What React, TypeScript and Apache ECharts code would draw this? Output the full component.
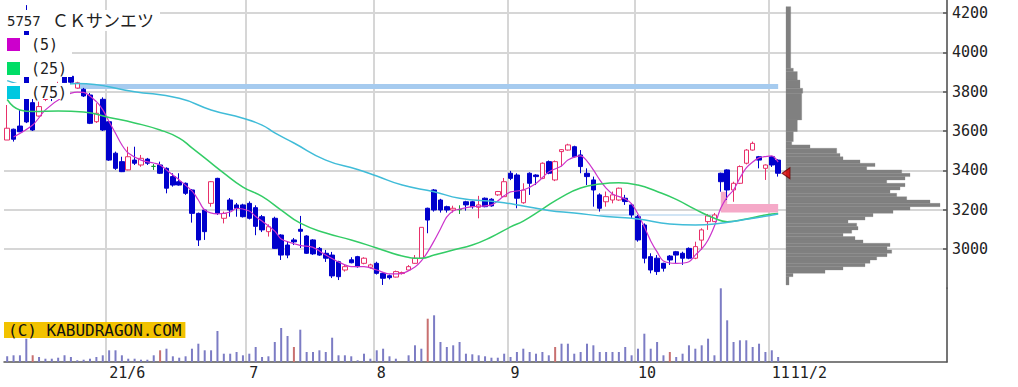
import React, { useEffect, useRef } from 'react';
import * as echarts from 'echarts';

// ---- trading calendar (2021) ----
const MAY = [10, 11, 12, 13, 14, 17, 18, 19, 20, 21, 24, 25, 26, 27, 28, 31];
const JUN = [1, 2, 3, 4, 7, 8, 9, 10, 11, 14, 15, 16, 17, 18, 21, 22, 23, 24, 25, 28, 29, 30];
const JUL = [1, 2, 5, 6, 7, 8, 9, 12, 13, 14, 15, 16, 19, 20, 21, 26, 27, 28, 29, 30];
const AUG = [2, 3, 4, 5, 6, 10, 11, 12, 13, 16, 17, 18, 19, 20, 23, 24, 25, 26, 27, 30, 31];
const SEP = [1, 2, 3, 6, 7, 8, 9, 10, 13, 14, 15, 16, 17, 21, 22, 24, 27, 28, 29, 30];
const OCT = [1, 4, 5, 6, 7, 8, 11, 12, 13, 14, 15, 18, 19, 20, 21, 22, 25, 26, 27, 28, 29];
const NOV = [1, 2];
const MONTHS: [number, number[]][] = [[5, MAY], [6, JUN], [7, JUL], [8, AUG], [9, SEP], [10, OCT], [11, NOV]];
const tradingDays: string[] = [];
MONTHS.forEach(([m, days]) => days.forEach((d) => tradingDays.push(`2021/${m}/${d}`)));
const TOTAL_SLOTS = 148; // chart leaves empty room on the right for the price-volume profile
const categories = [...tradingDays, ...new Array(TOTAL_SLOTS - tradingDays.length).fill('')];

// ---- x tick labels ----
const tickDates = ['2021/6/1', '2021/7/1', '2021/8/2', '2021/9/1', '2021/10/1', '2021/11/1'];
const tickTexts = ['21/6', '7', '8', '9', '10', '11'];
const lastDateText = '11/2';
const monthStartDates = ['2021/6/1', '2021/7/1', '2021/8/2', '2021/9/1', '2021/10/1', '2021/11/1'];

// ---- price ticks ----
const priceTicks = [3000, 3200, 3400, 3600, 3800, 4000, 4200];

// ---- OHLC ----
const openP = [
  3554, 3609, 3625, 4160, 3744, 3676, 3760, 3800, 3790, 3880,
  3878, 3818, 3812, 3783, 3647, 3761, 3647, 3487, 3444, 3402,
  3452, 3427, 3457, 3420, 3427, 3410, 3368, 3342, 3334, 3300,
  3181, 3198, 3232, 3359, 3156, 3249, 3224, 3224, 3232, 3210,
  3164, 3088, 3156, 3071, 3020, 3046, 3100, 3066, 3046, 3003,
  2978, 2969, 2935, 2893, 2945, 2961, 2927, 2907, 2927, 2876,
  2864, 2857, 2875, 2893, 2927, 2953, 3207, 3300, 3249, 3215,
  3198, 3200, 3240, 3240, 3212, 3258, 3253, 3275, 3266, 3385,
  3376, 3235, 3385, 3376, 3359, 3444, 3351, 3495, 3503, 3520,
  3478, 3385, 3351, 3275, 3240, 3249, 3249, 3258, 3224, 3164,
  3122, 2961, 2953, 2927, 2964, 2986, 2978, 3003, 2953, 3045,
  3139, 3139, 3385, 3402, 3300, 3334, 3436, 3503, 3469, 3410,
  3469, 3452,
];
const closeP = [
  3614, 3558, 3596, 3646, 3605, 3724, 3775, 3785, 3835, 3845,
  3848, 3845, 3778, 3639, 3690, 3605, 3452, 3410, 3393, 3469,
  3436, 3461, 3436, 3420, 3385, 3309, 3325, 3325, 3283, 3181,
  3046, 3088, 3342, 3181, 3181, 3198, 3207, 3164, 3156, 3115,
  3097, 3113, 3003, 2969, 2969, 3036, 3090, 2978, 2975, 2969,
  2953, 2863, 2859, 2910, 2930, 2910, 2953, 2919, 2876, 2851,
  2854, 2885, 2880, 2910, 2953, 3110, 3147, 3198, 3198, 3198,
  3207, 3200, 3224, 3215, 3224, 3215, 3219, 3292, 3342, 3359,
  3258, 3300, 3334, 3368, 3436, 3385, 3444, 3505, 3529, 3469,
  3419, 3368, 3300, 3207, 3266, 3275, 3309, 3241, 3173, 3046,
  2953, 2893, 2885, 2902, 2944, 2969, 2953, 2953, 3012, 3097,
  3168, 3173, 3342, 3300, 3334, 3419, 3503, 3537, 3452, 3427,
  3427, 3385,
];
const lowP = [
  3554, 3546, 3594, 3640, 3600, 3673, 3752, 3752, 3785, 3840,
  3840, 3815, 3773, 3635, 3641, 3600, 3448, 3402, 3391, 3400,
  3427, 3418, 3427, 3402, 3381, 3283, 3317, 3322, 3275, 3134,
  3015, 3046, 3215, 3173, 3130, 3164, 3164, 3160, 3150, 3070,
  3086, 3063, 3000, 2944, 2953, 3020, 3005, 2975, 2970, 2965,
  2934, 2852, 2842, 2885, 2927, 2905, 2922, 2900, 2870, 2817,
  2845, 2855, 2870, 2890, 2925, 2950, 3080, 3190, 3185, 3185,
  3185, 3178, 3195, 3205, 3156, 3212, 3215, 3270, 3264, 3350,
  3207, 3230, 3275, 3325, 3355, 3380, 3345, 3420, 3500, 3465,
  3385, 3325, 3215, 3190, 3215, 3232, 3245, 3224, 3156, 3037,
  2927, 2876, 2868, 2885, 2919, 2927, 2919, 2948, 2948, 2995,
  3097, 3137, 3291, 3249, 3240, 3330, 3430, 3500, 3410, 3351,
  3417, 3368,
];
const highP = [
  3732, 3612, 3707, 4240, 3790, 3749, 3800, 3820, 3850, 3890,
  3885, 3850, 3819, 3793, 3741, 3771, 3655, 3495, 3469, 3520,
  3520, 3478, 3463, 3432, 3444, 3415, 3385, 3385, 3338, 3305,
  3185, 3202, 3345, 3362, 3190, 3259, 3234, 3230, 3242, 3222,
  3173, 3125, 3164, 3075, 3037, 3056, 3168, 3070, 3050, 3010,
  2995, 2985, 2940, 2920, 2958, 2965, 2958, 2925, 2935, 2880,
  2870, 2890, 2885, 2918, 2969, 3110, 3210, 3305, 3255, 3220,
  3220, 3222, 3245, 3245, 3270, 3262, 3258, 3295, 3361, 3397,
  3385, 3334, 3390, 3380, 3440, 3450, 3450, 3508, 3535, 3525,
  3503, 3410, 3368, 3283, 3292, 3292, 3312, 3275, 3232, 3173,
  3130, 2978, 2969, 2930, 2969, 2990, 2986, 3008, 3037, 3105,
  3178, 3183, 3388, 3405, 3342, 3425, 3508, 3546, 3473, 3430,
  3473, 3456,
];

// ---- volume (thousand shares) ----
const volume = [
  57, 67, 67, 233, 67, 50, 33, 33, 43, 67,
  50, 17, 23, 33, 50, 67, 117, 117, 67, 33,
  33, 23, 23, 67, 117, 133, 57, 43, 57, 133,
  183, 117, 117, 310, 83, 83, 100, 67, 83, 150,
  50, 57, 200, 340, 260, 150, 323, 100, 100, 117,
  100, 243, 67, 67, 57, 17, 83, 33, 117, 133,
  57, 33, 0, 67, 167, 133, 433, 467, 200, 150,
  167, 200, 83, 77, 67, 57, 43, 43,
  83, 50, 100, 133, 100, 83, 100, 67, 150, 183,
  183, 83, 100, 183, 167, 100, 100, 100, 100, 150,
  67, 133, 283, 133, 200, 67, 100, 50, 83, 167,
  133, 167, 233, 67, 737, 417, 200, 217, 217, 150,
  183, 100, 117, 50,
];
const redVolumeDates = ['2021/5/14', '2021/6/11', '2021/7/12', '2021/8/13', '2021/9/10', '2021/10/8'];

// ---- moving averages [day index, price] ----
const ma5 = [
  [1, 3569], [4, 3630], [6, 3707], [9, 3778], [11, 3798], [12, 3796], [14, 3749], [15, 3707], [16, 3647],
  [17, 3588], [18, 3529], [19, 3488], [21, 3452], [23, 3437], [24, 3427], [26, 3376], [27, 3351], [29, 3295],
  [30, 3249], [31, 3198], [33, 3178], [35, 3188], [36, 3207], [38, 3193], [39, 3165], [40, 3142], [42, 3091],
  [43, 3051], [46, 3018], [48, 3008], [50, 2969], [52, 2934], [54, 2910], [56, 2910], [58, 2893], [60, 2873],
  [62, 2876], [64, 2908], [65, 2939], [66, 2985], [67, 3041], [68, 3102], [69, 3163], [70, 3193], [71, 3203],
  [73, 3215], [76, 3224], [78, 3270], [79, 3290], [81, 3300], [83, 3333], [85, 3392], [87, 3422], [88, 3452],
  [90, 3473], [91, 3447], [92, 3402], [93, 3351], [94, 3309], [95, 3280], [97, 3254], [98, 3229], [99, 3178],
  [100, 3112], [101, 3041], [102, 2985], [103, 2939], [105, 2927], [107, 2935], [108, 2969], [109, 3000],
  [110, 3046], [111, 3117], [112, 3208], [113, 3264], [114, 3300], [115, 3361], [116, 3412], [117, 3442],
  [118, 3463], [119, 3470], [120, 3473], [121, 3442],
];
const ma25 = [
  [0, 3760], [2, 3707], [4, 3699], [8, 3702], [12, 3697], [16, 3669], [20, 3641], [24, 3605], [27, 3564],
  [29, 3514], [31, 3463], [34, 3386], [37, 3315], [40, 3267], [43, 3198], [46, 3131], [50, 3081], [54, 3046],
  [58, 3005], [62, 2964], [65, 2953], [67, 2969], [70, 2995], [73, 3020], [76, 3061], [79, 3112], [81, 3142],
  [84, 3203], [87, 3264], [90, 3310], [93, 3330], [96, 3337], [99, 3325], [102, 3292], [105, 3252], [108, 3201],
  [111, 3156], [113, 3139], [116, 3152], [119, 3173], [121, 3180],
];
const ma75 = [
  [0, 3856], [5, 3825], [11, 3842], [20, 3800], [27, 3766], [32, 3707], [37, 3665], [40, 3630], [42, 3590],
  [45, 3539], [50, 3452], [55, 3404], [58, 3371], [62, 3325], [67, 3291], [71, 3258], [77, 3239], [81, 3219],
  [85, 3196], [89, 3183], [94, 3165], [99, 3152], [104, 3127], [108, 3122], [111, 3127], [116, 3151], [121, 3178],
];

// ---- horizontal lines & window ----
const resistance = { from: '2021/5/25', to: '2021/11/2', price: 3826 };
const support = { from: '2021/9/22', to: '2021/10/19', price: 3173 };
const windowLow = 3185;
const windowHigh = 3229;
const windowPeak = 3291;

// ---- price-volume profile ----
const profileEdges = [
  4232, 3919, 3902, 3859, 3817, 3792, 3656, 3597, 3546, 3529, 3512, 3486, 3469, 3453, 3436, 3419, 3402,
  3385, 3368, 3351, 3334, 3317, 3300, 3283, 3266, 3249, 3232, 3215, 3198, 3181, 3164, 3147, 3131, 3114,
  3097, 3080, 3063, 3046, 3029, 3012, 2995, 2978, 2961, 2944, 2927, 2910, 2893, 2876, 2859, 2817,
];
const profileVolume = [
  47, 73, 113, 140, 167, 157, 113, 73, 57, 240, 507, 540, 570, 740, 890, 807, 1157, 1240, 1190, 1007,
  1190, 1140, 1040, 1107, 1207, 1440, 1540, 1240, 1070, 870, 790, 620, 707, 720, 657, 570, 690, 770,
  1040, 1010, 1057, 1010, 907, 840, 790, 570, 390, 70, 30,
];

const legendLabels = ['(5)', '(25)', '(75)'];
const legendColors = ['#cc00cc', '#00dd66', '#00c8e0'];

const MONO = 'DejaVu Sans Mono';
const GRID_COLOR = '#d6d6d6';
const AXIS_COLOR = '#555';

function buildOption() {
  const labelIdx = tickDates.map((d) => categories.indexOf(d));
  const gridIdx = monthStartDates.map((d) => categories.indexOf(d));
  const lastIdx = tradingDays.length - 1;
  const candles = openP.map((o, i) => [o, closeP[i], lowP[i], highP[i]]);
  const vols = volume.map((v, i) => ({
    value: v,
    itemStyle: { color: redVolumeDates.includes(tradingDays[i]) ? '#c87070' : '#7c7cc4' },
  }));
  const profile = profileVolume.map((v, k) => [v, profileEdges[k], profileEdges[k + 1]]);
  const lastClose = closeP[closeP.length - 1];
  const splitLine = {
    show: true,
    interval: (i: number) => gridIdx.includes(i),
    lineStyle: { color: GRID_COLOR, width: 2 },
  };

  const graphic: any[] = [
    { type: 'rect', z: 100, shape: { x: 0, y: 10, width: 160, height: 21 }, style: { fill: '#fff' } },
    { type: 'rect', z: 100, shape: { x: 0, y: 35, width: 72, height: 42 }, style: { fill: '#fff' } },
    { type: 'rect', z: 100, shape: { x: 0, y: 83, width: 70, height: 16 }, style: { fill: '#fff' } },
    {
      type: 'text', z: 101, x: 7, y: 14,
      style: { text: '5757', fontFamily: MONO, fontSize: 14, fill: '#222', align: 'left', verticalAlign: 'top' },
    },
    {
      type: 'text', z: 101, x: 52, y: 11,
      style: { text: 'ＣＫサンエツ', fontFamily: 'Noto Sans CJK JP', fontSize: 17, fill: '#222', align: 'left', verticalAlign: 'top' },
    },
    {
      type: 'text', z: 101, x: 4, y: 322,
      style: {
        text: '(C) KABUDRAGON.COM', fontFamily: MONO, fontSize: 16, fill: '#111',
        backgroundColor: '#f2c200', padding: [0, 4, 0, 4], align: 'left', verticalAlign: 'top',
      },
    },
  ];
  legendLabels.forEach((t, k) => {
    const y = 38 + k * 24;
    graphic.push({ type: 'rect', z: 101, shape: { x: 7, y, width: 13, height: 13 }, style: { fill: legendColors[k] } });
    graphic.push({
      type: 'text', z: 101, x: 31, y: y - 1,
      style: { text: t, fontFamily: MONO, fontSize: 15, fill: '#222', align: 'left', verticalAlign: 'top' },
    });
  });

  return {
    animation: false,
    backgroundColor: '#fff',
    grid: [
      { left: 4, right: 71, top: 0, bottom: 98.7, outerBoundsMode: 'none' },
      { left: 4, right: 71, top: 288, bottom: 25, outerBoundsMode: 'none' },
      { left: 786, right: 71, top: 0, bottom: 98.7, outerBoundsMode: 'none' },
    ],
    xAxis: [
      {
        type: 'category', gridIndex: 0, data: categories, boundaryGap: true,
        axisLine: { show: false }, axisTick: { show: false }, axisLabel: { show: false }, splitLine,
      },
      {
        type: 'category', gridIndex: 1, data: categories, boundaryGap: true,
        axisLine: { show: true, lineStyle: { color: AXIS_COLOR, width: 1.5 } },
        axisTick: { show: false },
        axisLabel: {
          show: true,
          interval: (i: number) => labelIdx.includes(i),
          formatter: (_v: string, i: number) => {
            const k = labelIdx.indexOf(i);
            if (k < 0) return '';
            // the last trading day's date sits right after the final month label
            return i === lastIdx - 1 ? `${tickTexts[k]}{last|${lastDateText}}` : tickTexts[k];
          },
          rich: { last: { padding: [0, 0, 0, 1], fontFamily: MONO, fontSize: 15, color: '#222' } },
          align: 'left', margin: 3, color: '#222', fontFamily: MONO, fontSize: 15, hideOverlap: false,
        },
        splitLine,
      },
      { type: 'value', gridIndex: 2, min: 0, max: 1610, show: false },
    ],
    yAxis: [
      {
        type: 'value', gridIndex: 0, position: 'right', min: 2800, max: 4266, interval: 200,
        axisLine: { show: true, lineStyle: { color: AXIS_COLOR, width: 1.5 } },
        axisTick: { show: true, inside: true, length: 4, lineStyle: { color: AXIS_COLOR, width: 1.5 } },
        axisLabel: {
          formatter: (v: number) => (priceTicks.includes(v) ? String(v) : ''),
          showMinLabel: false, showMaxLabel: false, margin: 5,
          color: '#222', fontFamily: MONO, fontSize: 15,
        },
        splitLine: { show: true, showMinLine: false, showMaxLine: false, lineStyle: { color: GRID_COLOR, width: 2 } },
      },
      {
        type: 'value', gridIndex: 1, position: 'right', min: 0, max: 740,
        axisLine: { show: true, lineStyle: { color: AXIS_COLOR, width: 1.5 } },
        axisTick: { show: false }, axisLabel: { show: false }, splitLine: { show: false },
      },
      { type: 'value', gridIndex: 2, min: 2800, max: 4266, show: false },
    ],
    series: [
      {
        type: 'line', xAxisIndex: 0, yAxisIndex: 0, z: 1, symbol: 'none', silent: true,
        data: [[resistance.from, resistance.price], [resistance.to, resistance.price]],
        lineStyle: { color: '#a6cbef', width: 5 },
      },
      {
        type: 'line', xAxisIndex: 0, yAxisIndex: 0, z: 1, symbol: 'none', silent: true,
        data: [[support.from, support.price], [support.to, support.price]],
        lineStyle: { color: '#c2dcf2', width: 1.5 },
      },
      {
        type: 'candlestick', xAxisIndex: 0, yAxisIndex: 0, z: 2,
        data: candles, barWidth: 5,
        itemStyle: {
          color: '#ffffff', color0: '#0000cc', borderColor: '#e8306a', borderColor0: '#0000cc',
          borderColorDoji: '#119933', borderWidth: 1,
        },
        markArea: {
          silent: true,
          itemStyle: { color: '#f5a9c8', opacity: 1 },
          data: [
            [{ coord: ['2021/10/20', windowLow] }, { coord: ['2021/11/2', windowHigh] }],
            [{ coord: ['2021/10/20', windowHigh] }, { coord: ['2021/10/21', windowPeak] }],
          ],
        },
      },
      {
        type: 'line', xAxisIndex: 0, yAxisIndex: 0, z: 3, symbol: 'none', smooth: 0.3, data: ma5,
        lineStyle: { color: '#cc33cc', width: 1.2 },
      },
      {
        type: 'line', xAxisIndex: 0, yAxisIndex: 0, z: 3, symbol: 'none', smooth: true, data: ma25,
        lineStyle: { color: '#33cc66', width: 1.5 },
      },
      {
        type: 'line', xAxisIndex: 0, yAxisIndex: 0, z: 3, symbol: 'none', smooth: true, data: ma75,
        lineStyle: { color: '#40bcd8', width: 1.5 },
      },
      {
        type: 'bar', xAxisIndex: 1, yAxisIndex: 1, data: vols, barWidth: 2,
      },
      {
        type: 'custom', xAxisIndex: 2, yAxisIndex: 2, data: profile,
        encode: { x: 0, y: [1, 2] },
        renderItem: (_p: any, api: any) => {
          const p1 = api.coord([0, api.value(1)]);
          const p2 = api.coord([api.value(0), api.value(2)]);
          return {
            type: 'rect',
            shape: { x: p1[0], y: p1[1], width: p2[0] - p1[0], height: p2[1] - p1[1] },
            style: { fill: '#808080', stroke: '#808080', lineWidth: 0.3 },
          };
        },
      },
      {
        type: 'scatter', xAxisIndex: 0, yAxisIndex: 0, z: 10,
        data: [[tradingDays.length, lastClose]],
        symbol: 'triangle', symbolSize: [11, 8], symbolRotate: 90, symbolOffset: [1.5, 0],
        itemStyle: { color: '#e00000', borderColor: '#660000', borderWidth: 1 },
      },
    ],
    graphic,
  };
}

export default function App() {
  const ref = useRef<HTMLDivElement>(null);
  useEffect(() => {
    if (!ref.current) return;
    const chart = echarts.init(ref.current, undefined, { renderer: 'svg' });
    chart.setOption(buildOption() as any);
    return () => chart.dispose();
  }, []);
  return (
    <div
      ref={ref}
      style={{ position: 'fixed', left: 0, top: 0, width: 1018, height: 387, background: '#fff' }}
    />
  );
}
